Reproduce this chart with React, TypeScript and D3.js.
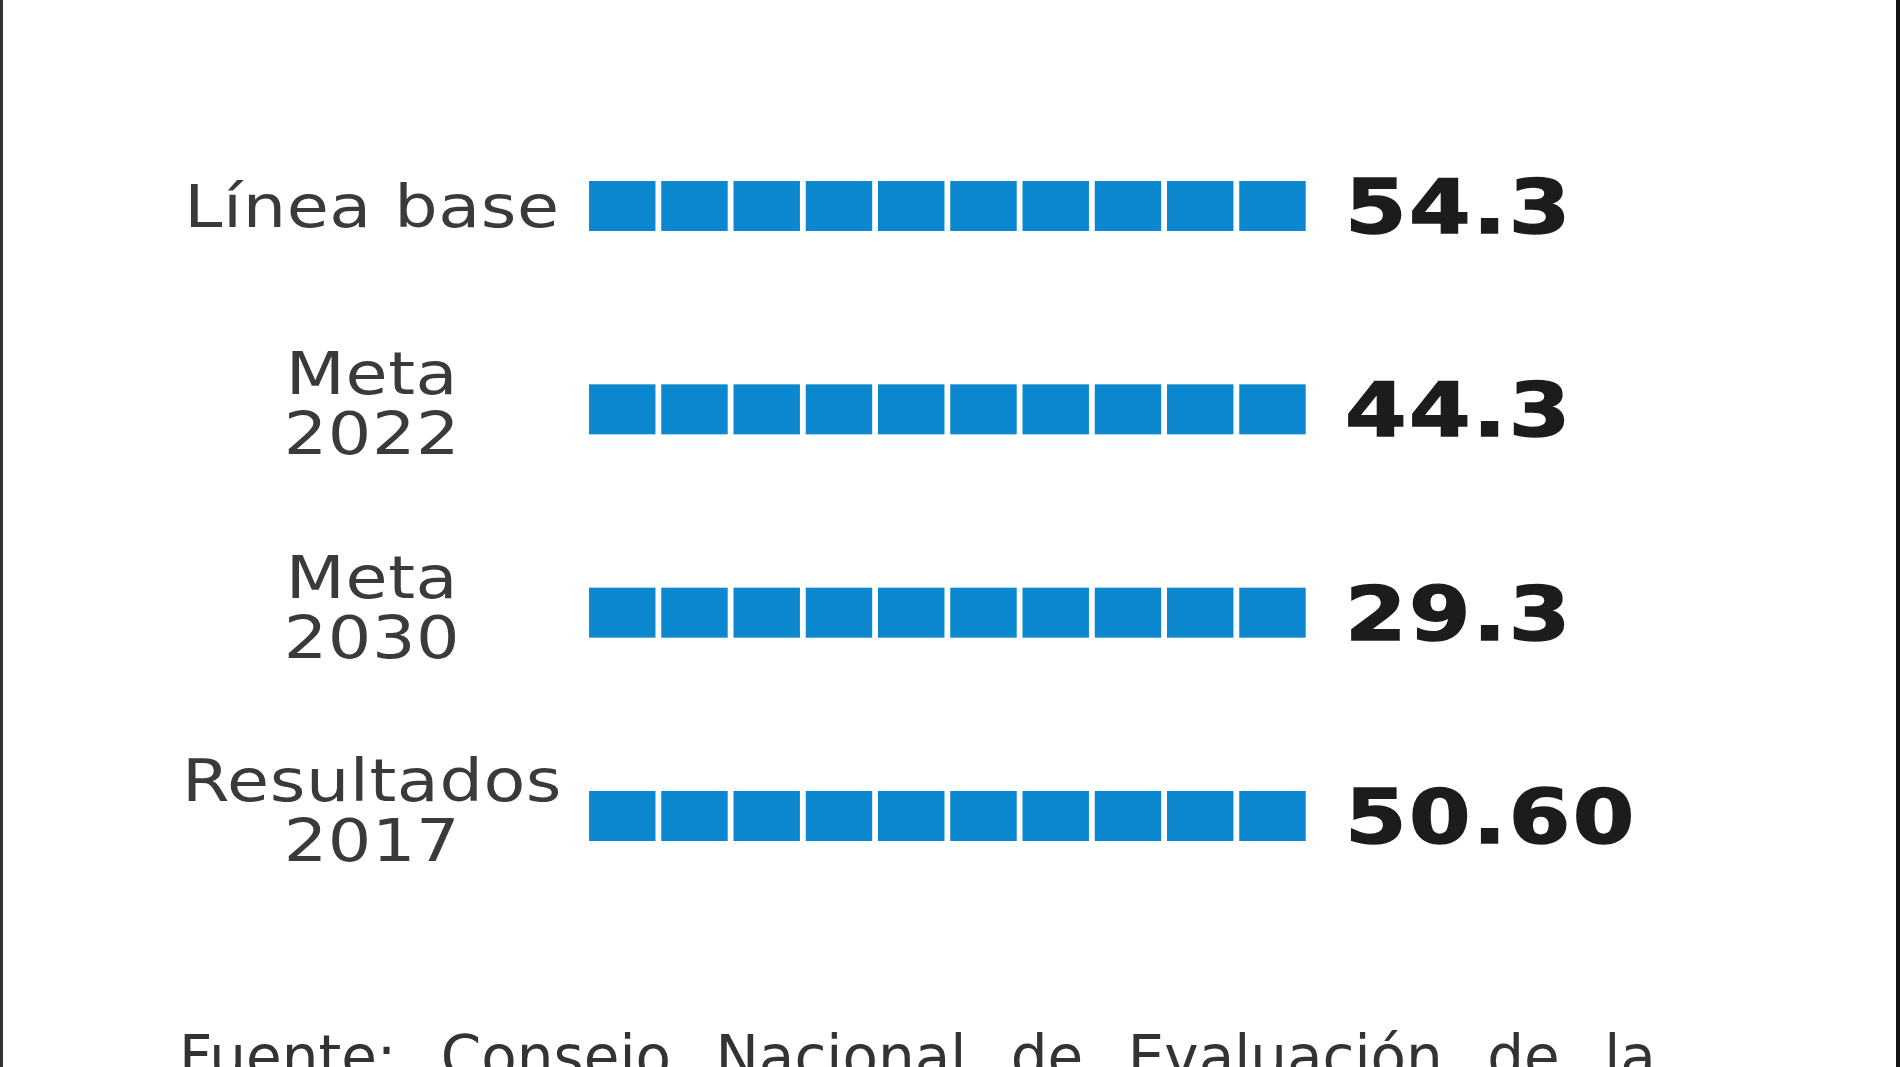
import React from "react";
import * as d3 from "d3";

const categories = ["Línea base", "Meta 2022", "Meta 2030", "Resultados 2017"];
const labelLines = [["Línea base"], ["Meta", "2022"], ["Meta", "2030"], ["Resultados", "2017"]];
const values = ["54.3", "44.3", "29.3", "50.60"];
const squares = [10, 10, 10, 10];
const footer = "Fuente: Consejo Nacional de Evaluación de la";

const W = 1900;
const H = 1067;

export default function App() {
  const y = d3.scalePoint<string>().domain(categories).range([206, 816]);
  const x = d3.scaleLinear().domain([0, 10]).range([589, 1311.5]);
  const gap = 5.8;
  const barH = 50;
  const blue = "#0b88cf";

  return (
    <svg
      width={W}
      height={H}
      style={{ position: "absolute", left: 0, top: 0, display: "block", background: "#fff" }}
    >
      <rect x={0} y={0} width={W} height={H} fill="#fff" />
      <rect x={0} y={0} width={3} height={H} fill="#333" />
      <rect x={1896} y={0} width={4} height={H} fill="#151515" />
      {categories.map((c, i) => {
        const cy = y(c) as number;
        const lines = labelLines[i];
        const idx = d3.range(squares[i]);
        return (
          <g key={c}>
            {idx.map((k) => (
              <rect
                key={k}
                x={x(k)}
                y={cy - barH / 2}
                width={x(k + 1) - x(k) - gap}
                height={barH}
                fill={blue}
              />
            ))}
            {lines.map((t, j) => (
              <g
                key={j}
                transform={`translate(372,${lines.length === 1 ? cy + 21 : cy - 15 + j * 60}) scale(1.18,1)`}
              >
                <text
                  x={0}
                  y={0}
                  textAnchor="middle"
                  fontFamily="DejaVu Sans"
                  fontSize={58}
                  letterSpacing={0.5}
                  fill="#3a3a3a"
                >
                  {t}
                </text>
              </g>
            ))}
            <g transform={`translate(1345,${cy + 27}) scale(1.18,1)`}>
              <text
                x={0}
                y={0}
                fontFamily="DejaVu Sans"
                fontWeight="bold"
                fontSize={75}
                letterSpacing={2}
                stroke="#1c1c1c"
                strokeWidth={1.5}
                fill="#1c1c1c"
              >
                {values[i]}
              </text>
            </g>
          </g>
        );
      })}
      <text
        x={179}
        y={1077}
        fontFamily="DejaVu Sans"
        fontSize={58}
        wordSpacing={26}
        fill="#333"
      >
        {footer}
      </text>
    </svg>
  );
}
